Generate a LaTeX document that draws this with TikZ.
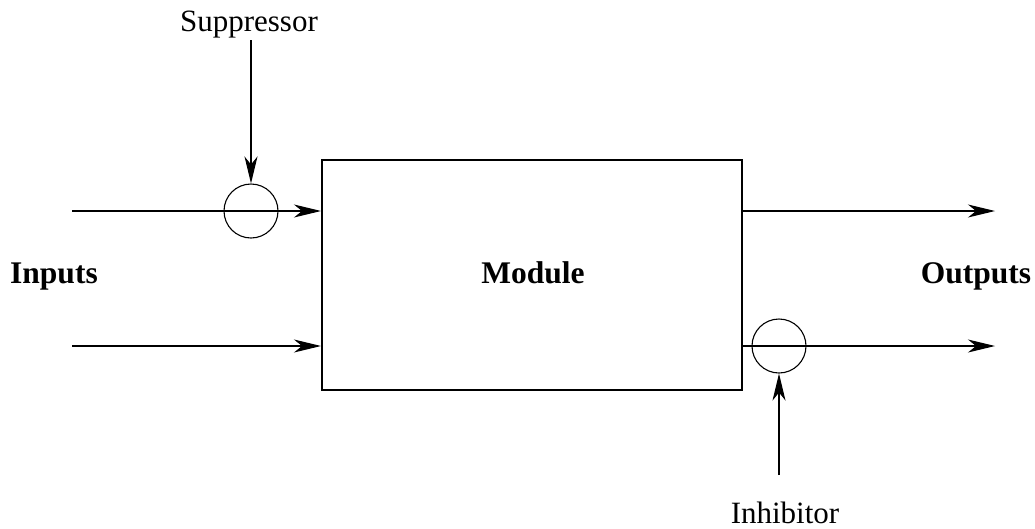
\documentclass[tikz,border=0pt]{standalone}
\usepackage{fontspec}
\setmainfont{Liberation Serif}
\usetikzlibrary{arrows.meta}
\begin{document}
\begin{tikzpicture}[x=1pt,y=1pt,
  conn/.style={line width=1.1pt,-{Stealth[length=27pt,width=13pt,inset=8pt]}},
  junc/.style={circle,draw,line width=1.1pt,minimum size=54pt,inner sep=0pt},
  lbl/.style={font=\fontsize{31}{36}\selectfont,anchor=base,inner sep=0pt},
  blbl/.style={font=\fontsize{31.5}{36}\selectfont\bfseries,anchor=base,inner sep=0pt}]
\useasboundingbox (0,0) rectangle (1035,-528);
\node[draw,line width=2pt,minimum width=420pt,minimum height=230pt,inner sep=0pt] (mod) at (532,-275) {};
\node[blbl] (modl) at (533,-283) {Module};
\node[blbl] (inl) at (54,-283) {Inputs};
\node[blbl] (outl) at (976,-283) {Outputs};
\node[lbl] (sup) at (249,-31) {Suppressor};
\node[lbl] (inh) at (785,-523) {Inhibitor};
\node[junc] (c1) at (251,-211) {};
\node[junc] (c2) at (779,-346) {};
\coordinate (i1) at (72,-211);
\coordinate (i2) at (72,-346);
\coordinate (o1) at (995,-211);
\coordinate (o2) at (995,-346);
\coordinate (supt) at (251,-40);
\coordinate (inht) at (779,-475);
\draw[conn] (i1) -- (mod.west |- i1);
\draw[conn] (i2) -- (mod.west |- i2);
\draw[conn] (mod.east |- o1) -- (o1);
\draw[conn] (mod.east |- o2) -- (o2);
\draw[conn] (supt) -- (c1.north);
\draw[conn] (inht) -- (c2.south);
\end{tikzpicture}
\end{document}
